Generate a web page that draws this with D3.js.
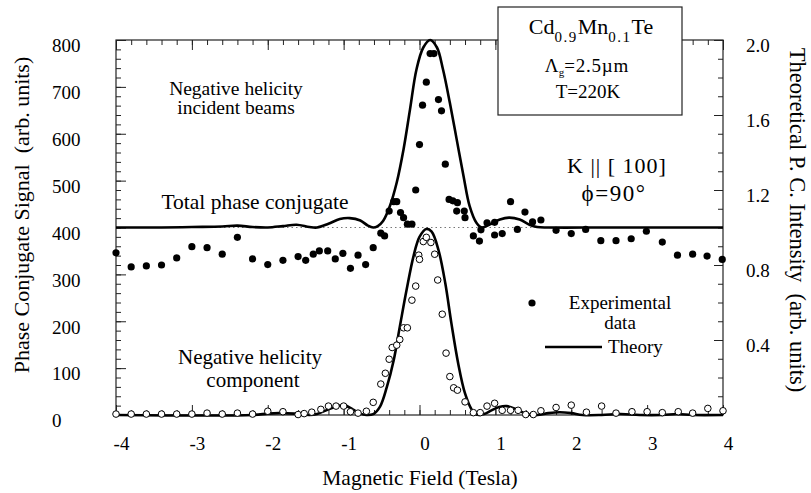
<!DOCTYPE html>
<html><head><meta charset="utf-8">
<script src="https://cdn.jsdelivr.net/npm/d3@7"></script>
<style>
body{margin:0;background:#fff}
text{font-family:"Liberation Serif","Times New Roman",Tinos,serif;fill:#000}
</style>
</head><body>
<svg id="c" width="811" height="493"></svg>
<script>
// ---------- data ----------
const xTickValues = [-4,-3,-2,-1,0,1,2,3,4];
const xTickLabels = ["-4","-3","-2","-1","0","1","2","3","4"];
const leftTickValues = [0,100,200,300,400,500,600,700,800];
const leftTickLabels = ["0","100","200","300","400","500","600","700","800"];
const rightTickValues = [0.4,0.8,1.2,1.6,2.0];
const rightTickLabels = ["0.4","0.8","1.2","1.6","2.0"];

// Total phase conjugate, experimental (filled circles), left axis units
const totalExpX = [-4.0,-3.8,-3.6,-3.4,-3.2,-3.0,-2.8,-2.6,-2.4,-2.2,-2.0,-1.8,-1.6,-1.5,-1.4,-1.32,-1.21,-1.11,-1.01,-0.91,-0.81,-0.71,-0.61,-0.51,-0.46,-0.40,-0.34,-0.30,-0.25,-0.21,-0.16,-0.10,-0.05,0.00,0.04,0.09,0.14,0.19,0.25,0.29,0.34,0.39,0.44,0.50,0.49,0.59,0.60,0.71,0.79,0.81,0.89,0.99,0.99,1.09,1.20,1.29,1.39,1.49,1.60,1.80,2.00,2.19,2.39,2.59,2.79,2.99,3.20,3.40,3.60,3.79,3.99];
const totalExpY = [346,316,318,320,335,359,357,343,379,333,321,330,338,330,343,350,350,333,345,313,341,321,357,388,382,435,455,455,432,421,407,407,480,577,661,710,771,771,673,649,535,460,457,453,435,435,421,382,371,395,410,411,384,387,455,396,433,412,416,394,387,396,372,372,376,392,369,341,343,339,332];

// Negative helicity component, experimental (open circles)
const negExpX = [-4.0,-3.8,-3.6,-3.4,-3.2,-3.0,-2.8,-2.6,-2.4,-2.2,-2.0,-1.8,-1.6,-1.52,-1.42,-1.30,-1.20,-1.10,-1.00,-0.91,-0.81,-0.70,-0.61,-0.51,-0.45,-0.40,-0.36,-0.30,-0.26,-0.21,-0.16,-0.10,-0.05,-0.01,0.00,0.05,0.09,0.15,0.20,0.24,0.30,0.35,0.40,0.45,0.50,0.60,0.71,0.80,0.89,0.99,1.09,1.20,1.30,1.40,1.50,1.60,1.80,2.00,2.20,2.40,2.59,2.80,3.00,3.20,3.41,3.60,3.80,4.00];
const negExpY = [2,2,2,2,2,2,4,2,4,2,8,7,1,3,6,12,19,19,19,7,4,8,27,66,89,119,144,149,161,186,186,245,275,341,332,370,379,368,343,288,215,132,82,58,53,28,5,5,19,25,10,10,10,1,1,9,16,21,6,19,4,7,7,5,7,4,14,9];

// Theory, total phase conjugate (left axis units; 400 = 1.0 on right axis)
const totalThX = [-4.0,-3.4,-3.0,-2.6,-2.4,-2.2,-2.0,-1.8,-1.62,-1.45,-1.35,-1.2,-1.05,-0.92,-0.78,-0.68,-0.61,-0.55,-0.48,-0.39,-0.30,-0.21,-0.125,-0.04,0.05,0.14,0.23,0.31,0.40,0.49,0.58,0.66,0.75,0.82,0.93,1.06,1.18,1.32,1.45,1.55,1.7,2.5,4.0];
const totalThY = [400,400,401,402,404,401,400,403,406,401,400,408,418,420,415,404,400,403,414,446,496,567,652,737,784,800,784,737,666,588,510,446,410,400,407,417,421,417,406,401,400,400,400];

// Theory, negative helicity component
const negThX = [-4.0,-2.2,-2.0,-1.85,-1.65,-1.45,-1.35,-1.2,-1.0,-0.88,-0.78,-0.70,-0.61,-0.52,-0.43,-0.34,-0.26,-0.17,-0.08,0.0,0.09,0.16,0.25,0.34,0.42,0.51,0.60,0.69,0.75,0.85,0.95,1.05,1.15,1.28,1.41,1.55,1.7,1.85,2.0,2.15,2.4,2.65,2.9,3.2,3.4,3.6,4.0];
const negThY = [0,0,3,4,3,0,2,12,21,12,3,0,2,18,60,117,188,267,338,380,397,391,352,281,196,110,46,11,1,2,10,17,19,12,2,0,4,6,4,0,0,2,0,0,2,0,0];

// ---------- drawing ----------
const svg = d3.select("#c");
const L = 116, R = 723, T = 40, B = 415;
const x = d3.scaleLinear().domain([-4,4]).range([L,R]);
const y = d3.scaleLinear().domain([0,800]).range([B,T]);
const y2 = d3.scaleLinear().domain([0,2]).range([B,T]);
const ink = "#222";

// dotted reference line at 400
svg.append("line").attr("x1",L).attr("x2",R).attr("y1",y(400)).attr("y2",y(400))
  .attr("stroke","#777").attr("stroke-width",1).attr("stroke-dasharray","1.5,3");

// frame
svg.append("rect").attr("x",L).attr("y",T).attr("width",R-L).attr("height",B-T)
  .attr("fill","none").attr("stroke",ink).attr("stroke-width",1.2);

function styleAxis(g){
  g.select(".domain").remove();
  g.selectAll(".tick line").attr("stroke",ink).attr("stroke-width",1);
}
// bottom
const minorX = d3.range(-4,4.0001,0.2).map(v=>+v.toFixed(2));
svg.append("g").attr("transform",`translate(0,${B})`)
  .call(d3.axisBottom(x).tickValues(minorX).tickSize(-5).tickFormat("")).call(styleAxis);
const gb = svg.append("g").attr("transform",`translate(0,${B})`)
  .call(d3.axisBottom(x).tickValues(xTickValues).tickSize(-10).tickPadding(22)
    .tickFormat((d,i)=>xTickLabels[i])).call(styleAxis);
gb.selectAll("text").attr("font-size",19).attr("dx",5)
  .style("font-family","'Liberation Serif',serif");
// top
svg.append("g").attr("transform",`translate(0,${T})`)
  .call(d3.axisTop(x).tickValues(minorX).tickSize(-5).tickFormat("")).call(styleAxis);
svg.append("g").attr("transform",`translate(0,${T})`)
  .call(d3.axisTop(x).tickValues(xTickValues).tickSize(-10).tickFormat("")).call(styleAxis);
// left
svg.append("g").attr("transform",`translate(${L},0)`)
  .call(d3.axisLeft(y).tickValues(d3.range(0,801,20)).tickSize(-5).tickFormat("")).call(styleAxis);
const gl = svg.append("g").attr("transform",`translate(${L},0)`)
  .call(d3.axisLeft(y).tickValues(leftTickValues).tickSize(-10)
    .tickFormat((d,i)=>leftTickLabels[i])).call(styleAxis);
gl.selectAll("text").attr("font-size",19).attr("text-anchor","start")
  .attr("x",52-L).attr("dy","0.62em").style("font-family","'Liberation Serif',serif");
// right
svg.append("g").attr("transform",`translate(${R},0)`)
  .call(d3.axisRight(y2).tickValues(d3.range(0,20.001,1).map(v=>v/10)).tickSize(-5).tickFormat("")).call(styleAxis);
const gr = svg.append("g").attr("transform",`translate(${R},0)`)
  .call(d3.axisRight(y2).tickValues(rightTickValues).tickSize(-9)
    .tickFormat((d,i)=>rightTickLabels[i])).call(styleAxis);
gr.selectAll("text").attr("font-size",19).attr("text-anchor","start")
  .attr("x",746-R).attr("dy","0.62em").style("font-family","'Liberation Serif',serif");

// theory lines
const line = d3.line().x(d=>x(d[0])).y(d=>y(d[1])).curve(d3.curveCatmullRom.alpha(0.5));
svg.append("path").datum(totalThX.map((v,i)=>[v,totalThY[i]]))
  .attr("d",line).attr("fill","none").attr("stroke","#000").attr("stroke-width",2.6);
svg.append("path").datum(negThX.map((v,i)=>[v,negThY[i]]))
  .attr("d",line).attr("fill","none").attr("stroke","#000").attr("stroke-width",2.6);

// experimental points
svg.append("g").selectAll("circle").data(negExpX.map((v,i)=>[v,negExpY[i]])).join("circle")
  .attr("cx",d=>x(d[0])).attr("cy",d=>y(d[1])).attr("r",3.3)
  .attr("fill","#fff").attr("stroke","#000").attr("stroke-width",1);
svg.append("g").selectAll("circle").data(totalExpX.map((v,i)=>[v,totalExpY[i]])).join("circle")
  .attr("cx",d=>x(d[0])).attr("cy",d=>y(d[1])).attr("r",3.6).attr("fill","#000");

// info box
svg.append("rect").attr("x",498).attr("y",7).attr("width",184).attr("height",108)
  .attr("fill","#fff").attr("stroke",ink).attr("stroke-width",1.2);
const t1 = svg.append("text").attr("x",591).attr("y",34).attr("text-anchor","middle").attr("font-size",22);
t1.append("tspan").text("Cd");
t1.append("tspan").attr("font-size",15).attr("dy",8).attr("letter-spacing",1.5).text("0.9");
t1.append("tspan").attr("dy",-8).text("Mn");
t1.append("tspan").attr("font-size",15).attr("dy",8).attr("letter-spacing",1.5).text("0.1");
t1.append("tspan").attr("dy",-8).text("Te");
const t2 = svg.append("text").attr("x",587).attr("y",72).attr("text-anchor","middle").attr("font-size",19);
t2.append("tspan").text("Λ");
t2.append("tspan").attr("font-size",11).attr("dy",4).text("g");
t2.append("tspan").attr("dy",-4).attr("letter-spacing",0.8).text("=2.5µm");
svg.append("text").attr("x",588).attr("y",98).attr("text-anchor","middle").attr("font-size",19).text("T=220K");

// annotations
function label(tx,ty,s,fs,ls){const t=svg.append("text").attr("x",tx).attr("y",ty).attr("text-anchor","middle").attr("font-size",fs).text(s); if(ls) t.attr("letter-spacing",ls); return t;}
label(236,95,"Negative helicity",19.5);
label(236,114,"incident beams",19.5);
label(255,209,"Total phase conjugate",21.5);
label(250,364,"Negative helicity",21);
label(253,387,"component",21);
label(617,173,"K || [ 100]",22,1);
label(614,201,"ϕ=90°",23,1.5);

// legend
svg.append("circle").attr("cx",532).attr("cy",303).attr("r",3.6).attr("fill","#000");
label(620,309,"Experimental",19);
label(620,329,"data",19);
svg.append("line").attr("x1",545).attr("x2",602).attr("y1",347).attr("y2",347).attr("stroke","#000").attr("stroke-width",2.6);
svg.append("text").attr("x",608).attr("y",353).attr("font-size",19).text("Theory");

// axis titles
svg.append("text").attr("x",420).attr("y",485).attr("text-anchor","middle").attr("font-size",21.5).text("Magnetic Field (Tesla)");
svg.append("text").attr("transform","translate(29,215) rotate(-90)").attr("text-anchor","middle")
  .attr("font-size",22).attr("xml:space","preserve").text("Phase Conjugate Signal  (arb. units)");
svg.append("text").attr("transform","translate(790,220) rotate(90)").attr("text-anchor","middle")
  .attr("font-size",22.5).attr("xml:space","preserve").text("Theoretical P. C. Intensity  (arb. units)");
</script>
</body></html>
